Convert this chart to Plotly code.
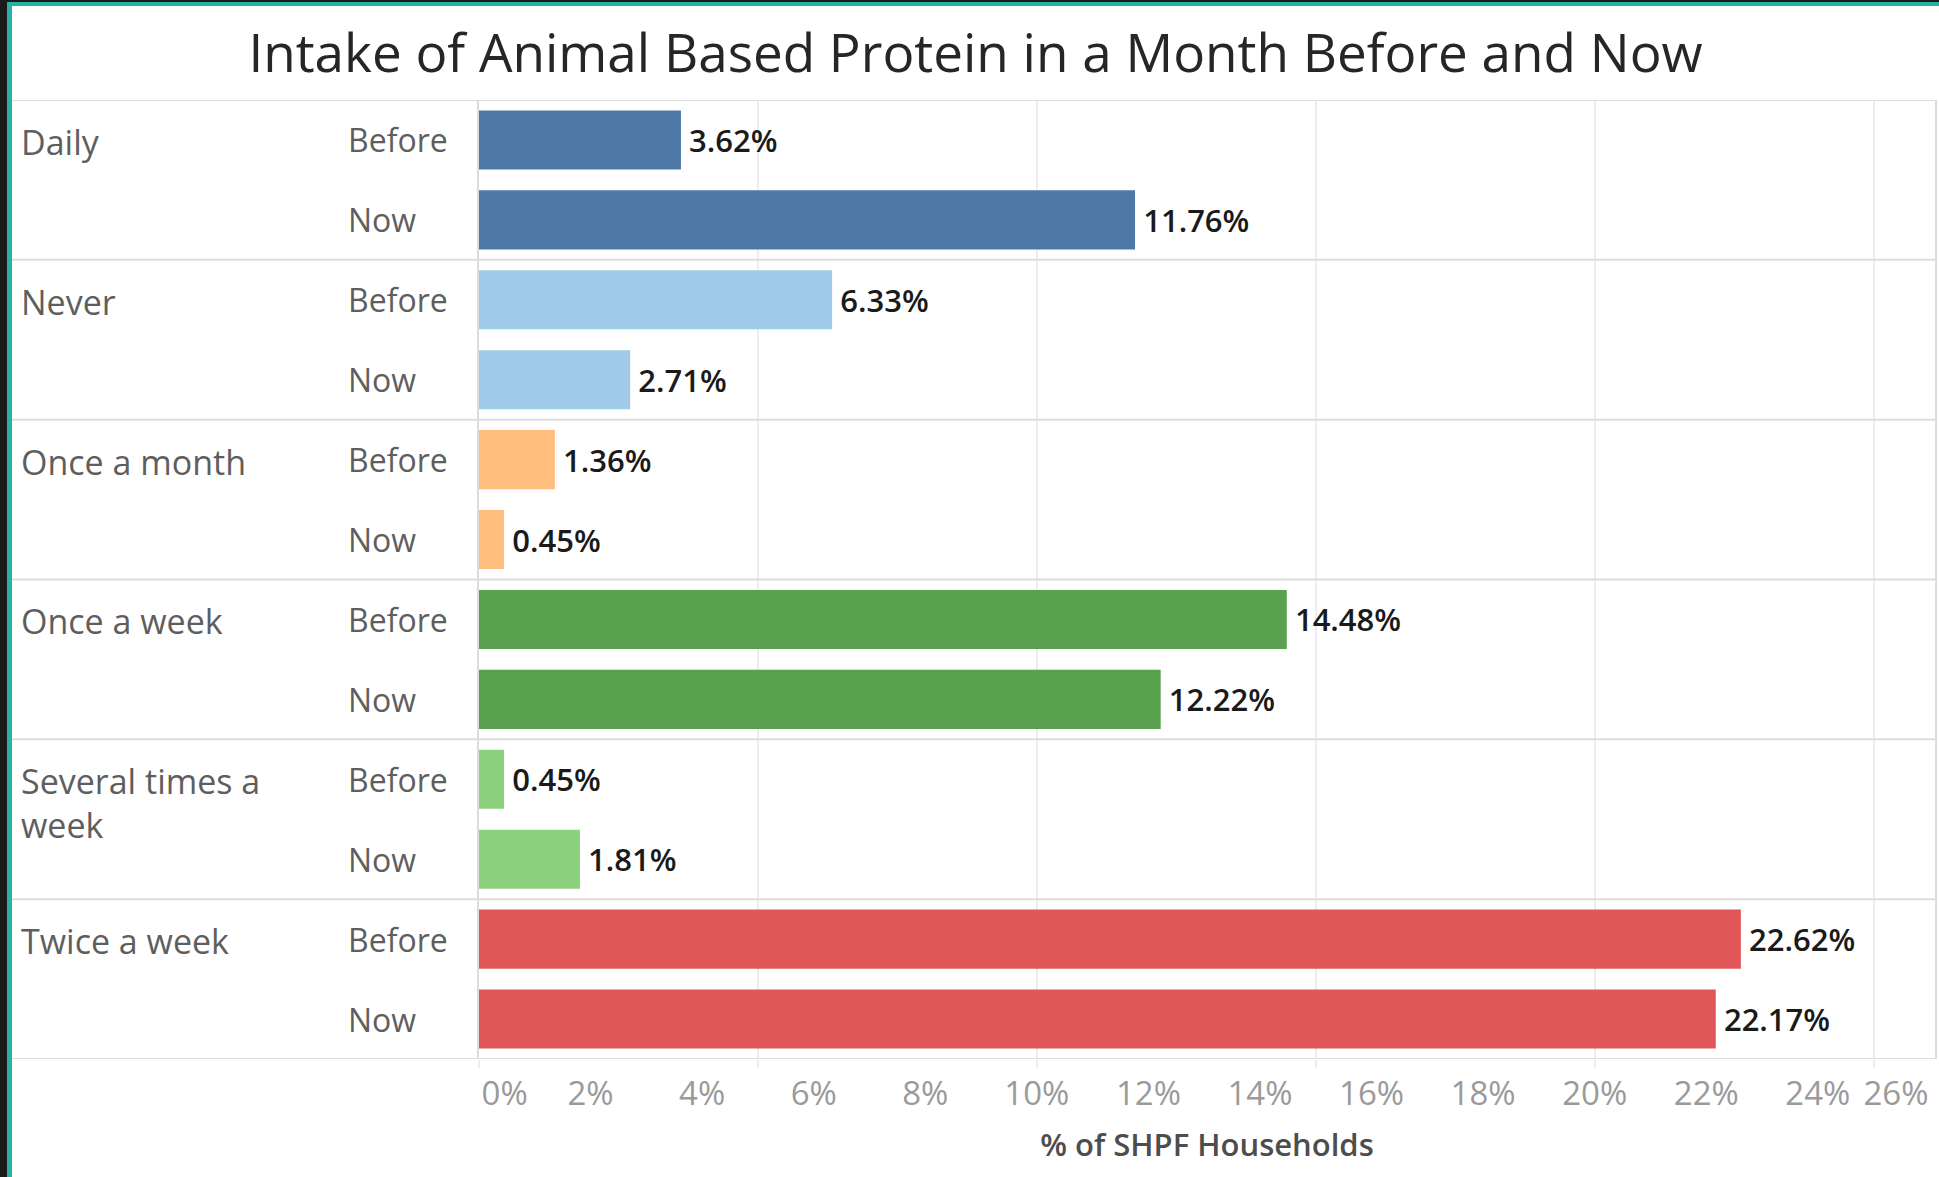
import plotly.graph_objects as go

# ---------------- data ----------------
categories = ["Daily", "Never", "Once a month", "Once a week",
              "Several times a<br>week", "Twice a week"]
periods = ["Before", "Now"]
before_pct = [3.62, 6.33, 1.36, 14.48, 0.45, 22.62]
now_pct = [11.76, 2.71, 0.45, 12.22, 1.81, 22.17]
category_colors = ["#4e79a7", "#a0cbe8", "#ffbe7d", "#59a14f", "#8cd17d", "#e15759"]
tick_values = list(range(0, 27, 2))
tick_labels = [f"{v}%" for v in tick_values]
grid_step = 5
title_text = "Intake of Animal Based Protein in a Month Before and Now"
x_title = "% of SHPF Households"

# ---------------- layout constants ----------------
W, H = 1939, 1177
FONT = "Open Sans"
PLOT_L, PLOT_R = 479, 1935
PLOT_T, PLOT_B = 100, 1059
X_MAX = 26.1

def px_x(p):
    return p / W

def px_y(p):
    return 1 - p / H

# build rows
y_keys, x_vals, colors = [], [], []
for cat, b, n, c in zip(categories, before_pct, now_pct, category_colors):
    for per, v in zip(periods, (b, n)):
        y_keys.append(f"{cat}|{per}")
        x_vals.append(v)
        colors.append(c)

fig = go.Figure()
fig.add_trace(go.Bar(
    x=x_vals, y=y_keys, orientation="h",
    marker=dict(color=colors, line=dict(width=0)),
    text=[f"\u2009{v:.2f}%" for v in x_vals],
    textposition="outside", constraintext="none", cliponaxis=False,
    textfont=dict(family=FONT, size=31, color="#1a1a1a", weight=600),
    hoverinfo="skip", showlegend=False,
))
# invisible helper trace that carries the 5 % gridline axis
fig.add_trace(go.Scatter(
    x=[0], y=[y_keys[0]], xaxis="x2", mode="markers",
    marker=dict(opacity=0), hoverinfo="skip", showlegend=False,
))

# tick positions (end labels nudged inward, as in the original)
tick_pos = list(tick_values)
tick_pos[0] = tick_values[0] + 0.46
tick_pos[-1] = tick_values[-1] - 0.6

fig.update_layout(
    width=W, height=H,
    margin=dict(l=0, r=0, t=0, b=0),
    paper_bgcolor="white", plot_bgcolor="white",
    bargap=0.26,
    title=dict(text=title_text, x=975.5 / W, xanchor="center",
               y=px_y(53), yanchor="middle",
               font=dict(family=FONT, size=53, color="#262626")),
    xaxis=dict(domain=[px_x(PLOT_L), px_x(PLOT_R)], range=[0, X_MAX],
               tickvals=tick_pos, ticktext=tick_labels,
               tickfont=dict(family=FONT, size=33, color="#9a9a9a"),
               showgrid=False, zeroline=False, showline=False,
               ticks="", ticklabelstandoff=12,
               title=dict(text=x_title, standoff=20,
                          font=dict(family=FONT, size=31, color="#4d4d4d", weight=600))),
    xaxis2=dict(overlaying="x", domain=[px_x(PLOT_L), px_x(PLOT_R)],
                range=[0, X_MAX], dtick=grid_step, tick0=0,
                showgrid=True, gridcolor="#ededed", gridwidth=2,
                ticks="outside", ticklen=8, tickwidth=2, tickcolor="#ededed",
                showticklabels=False, zeroline=False, showline=False,
                anchor="y", side="bottom"),
    yaxis=dict(domain=[px_y(PLOT_B), px_y(PLOT_T)], type="category",
               categoryorder="array", categoryarray=y_keys,
               range=[len(y_keys) - 0.5, -0.5],
               showticklabels=False, showgrid=False, zeroline=False,
               showline=True, mirror=True, linecolor="#dcdcdc", linewidth=2),
)

annotations = []
for cat in categories:
    annotations.append(dict(
        x=px_x(19), xref="paper", xanchor="left",
        y=f"{cat}|{periods[0]}", yref="y", yanchor="top", yshift=23,
        text=cat, showarrow=False, align="left",
        font=dict(family=FONT, size=34, color="#5e5e5e")))
    for per in periods:
        annotations.append(dict(
            x=px_x(346), xref="paper", xanchor="left",
            y=f"{cat}|{per}", yref="y", yanchor="middle",
            text=per, showarrow=False,
            font=dict(family=FONT, size=32, color="#5e5e5e")))
fig.update_layout(annotations=annotations)

shapes = []
# horizontal separators between category groups (incl. top and bottom)
for k in range(len(categories) + 1):
    shapes.append(dict(type="line", xref="paper", yref="y",
                       x0=px_x(12), x1=px_x(PLOT_R),
                       y0=k * len(periods) - 0.5, y1=k * len(periods) - 0.5,
                       line=dict(color="#dcdcdc", width=2)))
# screenshot frame (dark strip + teal edge)
shapes += [
    dict(type="rect", xref="paper", yref="paper", x0=0, x1=px_x(7), y0=0, y1=1,
         fillcolor="#1b1b1b", line=dict(width=0), layer="above"),
    dict(type="rect", xref="paper", yref="paper", x0=px_x(7), x1=px_x(12), y0=0, y1=1,
         fillcolor="#27b2a6", line=dict(width=0), layer="above"),
    dict(type="rect", xref="paper", yref="paper", x0=px_x(7), x1=1, y0=px_y(2), y1=1,
         fillcolor="#1b1b1b", line=dict(width=0), layer="above"),
    dict(type="rect", xref="paper", yref="paper", x0=px_x(7), x1=1, y0=px_y(6), y1=px_y(2),
         fillcolor="#27b2a6", line=dict(width=0), layer="above"),
]
fig.update_layout(shapes=shapes)

fig.write_html("out.html", config={"displayModeBar": False},
               post_script="document.body.style.margin='0';document.body.style.overflow='hidden';")
